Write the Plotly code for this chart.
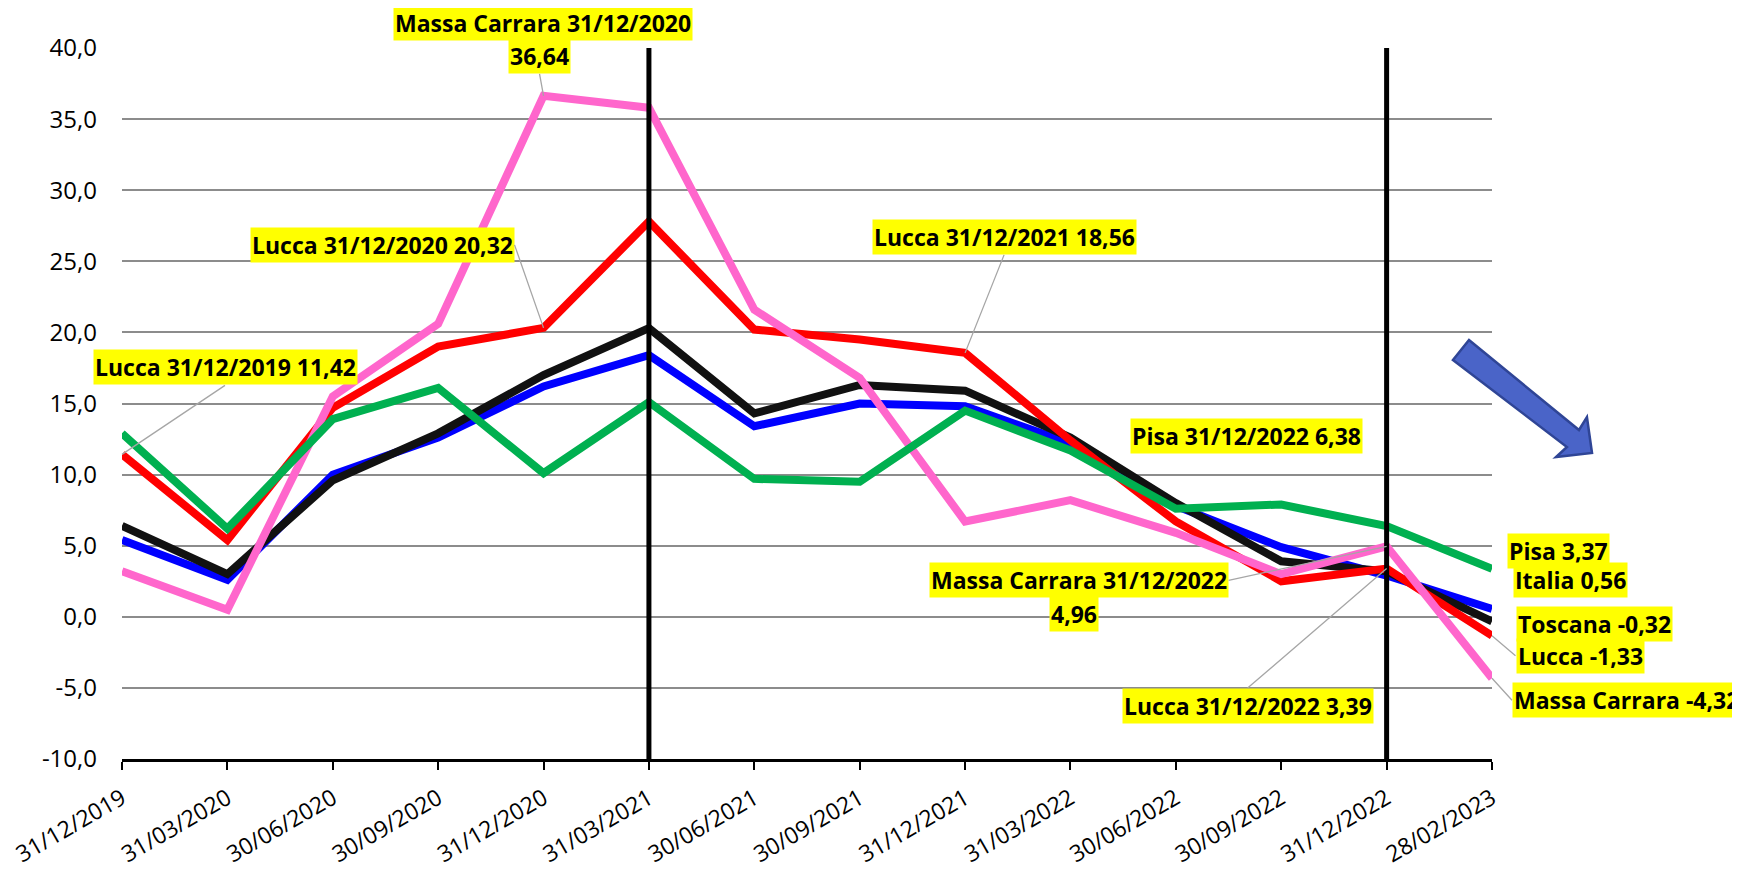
import plotly.graph_objects as go

# date trimestrali
date = ['31/12/2019', '31/03/2020', '30/06/2020', '30/09/2020', '31/12/2020',
        '31/03/2021', '30/06/2021', '30/09/2021', '31/12/2021', '31/03/2022',
        '30/06/2022', '30/09/2022', '31/12/2022', '28/02/2023']

italia = [5.4, 2.6, 10.0, 12.6, 16.2, 18.4, 13.4, 15.0, 14.8, 12.2, 7.8, 4.9, 2.9, 0.56]
toscana = [6.4, 3.0, 9.6, 12.9, 17.0, 20.3, 14.3, 16.3, 15.9, 12.6, 8.0, 3.9, 3.2, -0.32]
lucca = [11.42, 5.4, 14.7, 19.0, 20.32, 27.8, 20.2, 19.5, 18.56, 12.4, 6.7, 2.5, 3.39, -1.33]
massa = [3.2, 0.5, 15.5, 20.6, 36.64, 35.8, 21.6, 16.8, 6.7, 8.2, 5.9, 3.0, 4.96, -4.32]
pisa = [12.9, 6.2, 13.9, 16.1, 10.1, 15.1, 9.7, 9.5, 14.5, 11.7, 7.6, 7.9, 6.38, 3.37]

y_ticks = [-10, -5, 0, 5, 10, 15, 20, 25, 30, 35, 40]
y_ticktext = ['-10,0', '-5,0', '0,0', '5,0', '10,0', '15,0', '20,0', '25,0', '30,0', '35,0', '40,0']

serie = [
    ('Italia', italia, '#0000FF'),
    ('Toscana', toscana, '#111111'),
    ('Lucca', lucca, '#FF0000'),
    ('Massa Carrara', massa, '#FF66CC'),
    ('Pisa', pisa, '#00B050'),
]


def fmt(v):
    return f"{v:.2f}".replace('.', ',')


fig = go.Figure()
for nome, valori, colore in serie:
    fig.add_trace(go.Scatter(x=date, y=valori, mode='lines', name=nome,
                             line=dict(color=colore, width=8)))

FONT_LAB = dict(family='Open Sans', size=23, color='black', weight='bold')


def etichetta(testo, i, val, ax=None, ay=None, **kw):
    d = dict(x=date[i], y=val, text=testo, font=FONT_LAB, bgcolor='#FFFF00',
             borderpad=1)
    if ax is not None:
        d.update(showarrow=True, ax=ax, ay=ay, arrowhead=0, arrowwidth=1.3,
                 arrowcolor='#A6A6A6')
    else:
        d.update(showarrow=False)
    d.update(kw)
    fig.add_annotation(**d)


etichetta(f"Lucca {date[0]} {fmt(lucca[0])}", 0, lucca[0], 103, -69, yanchor='bottom')
etichetta(f"Lucca {date[4]} {fmt(lucca[4])}", 4, lucca[4], -29, -83, xanchor='right')
etichetta(fmt(massa[4]), 4, massa[4], -4, -22, yanchor='bottom')
etichetta(f"Massa Carrara {date[4]}", 4, massa[4], xshift=-1, yshift=72.5)
etichetta(f"Lucca {date[8]} {fmt(lucca[8])}", 8, lucca[8], 39, -98, yanchor='bottom')
etichetta(f"Pisa {date[12]} {fmt(pisa[12])}", 12, pisa[12], xshift=-140.5, yshift=90.5)
etichetta(f"Massa Carrara {date[12]}", 12, massa[12], -158, 34, xanchor='right')
etichetta(fmt(massa[12]), 12, massa[12], xshift=-313, yshift=-68)
etichetta(f"Lucca {date[12]} {fmt(lucca[12])}", 12, lucca[12], -139, 119.5, yanchor='top')
etichetta(f"Pisa {fmt(pisa[13])}", 13, pisa[13], xanchor='left', xshift=15, yshift=18)
etichetta(f"Italia {fmt(italia[13])}", 13, italia[13], xanchor='left', xshift=21, yshift=29)
etichetta(f"Toscana {fmt(toscana[13])}", 13, toscana[13], xanchor='left', xshift=23.5, yshift=-3)
etichetta(f"Lucca {fmt(lucca[13])}", 13, lucca[13], 23.5, 20, xanchor='left')
etichetta(f"Massa Carrara {fmt(massa[13])}", 13, massa[13], 20, 22, xanchor='left')

# linee verticali di riferimento
for d in ['31/03/2021', '31/12/2022']:
    fig.add_shape(type='line', xref='x', yref='y', x0=d, x1=d, y0=-10, y1=40,
                  line=dict(color='black', width=5), layer='above')

# area del grafico in pixel della finestra (la pagina ha 8px di margine)
L, T, W, H = 122, 48, 1370, 711
PAG = 8
FW, FH = 1740 - PAG, 870 - PAG

# freccia blu (decorazione), coordinate in pixel della finestra
freccia_px = [(1469, 340), (1579, 430), (1587, 417), (1592, 453),
              (1556, 457), (1567, 447), (1453, 360)]
pts = [((px - L) / W, 1 - (py - T) / H) for px, py in freccia_px]
path = 'M ' + ' L '.join(f"{x:.4f},{y:.4f}" for x, y in pts) + ' Z'
fig.add_shape(type='path', xref='paper', yref='paper', path=path,
              fillcolor='#4A64C8', line=dict(color='#2F4596', width=2.5))

fig.update_layout(
    width=FW, height=FH,
    margin=dict(l=L - PAG, r=FW - (L - PAG) - W, t=T - PAG, b=FH - (T - PAG) - H),
    plot_bgcolor='white', paper_bgcolor='white',
    showlegend=False,
    font=dict(family='Open Sans', size=24, color='black'),
)
fig.update_xaxes(type='category', range=[0, 13], showgrid=False, automargin=False,
                 showline=True, linecolor='black', linewidth=3,
                 ticks='outside', ticklen=8, tickwidth=2, tickcolor='black',
                 tickangle=-30, tickfont=dict(size=23), ticklabelstandoff=6)
fig.update_yaxes(range=[-10, 40], tickvals=y_ticks, ticktext=y_ticktext,
                 automargin=False,
                 showgrid=True, gridcolor='#8C8C8C', gridwidth=2,
                 zeroline=False, showline=False, ticks='',
                 ticklabelstandoff=24, tickfont=dict(size=24))

fig.write_html("out.html")
